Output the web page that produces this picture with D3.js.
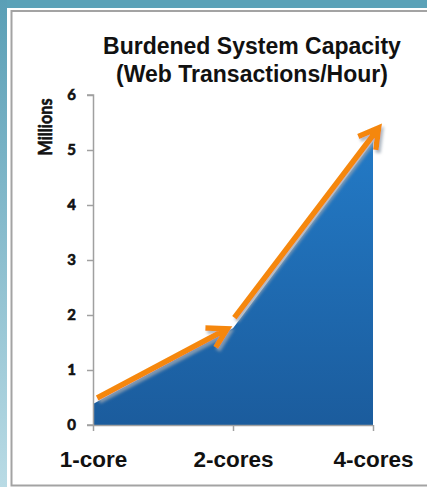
<!DOCTYPE html>
<html>
<head>
<meta charset="utf-8">
<script src="https://cdn.jsdelivr.net/npm/d3@7"></script>
<style>
    body { margin: 0; background: #ffffff; }
</style>
</head>
<body>
<div id="chart"></div>
<script>

// chart values
let categories = ["1-core", "2-cores", "4-cores"];
let capacity = [0.38, 1.76, 5.15];          // millions of web transactions/hour
let yTicks = [0, 1, 2, 3, 4, 5, 6];

// the two orange trend arrows, in (category index, millions)
let arrowFrom = [[0.03, 0.49], [1.01, 1.95]];
let arrowTo = [[0.96, 1.75], [2.04, 5.40]];

let W = 427, H = 487;
let margin = {top: 95, left: 93, right: 54, bottom: 62};

let svg = d3.select("#chart")
    .append("svg")
    .attr("width", W)
    .attr("height", H);

let defs = svg.append("defs");

// slide background: teal strips at top and left
let side = defs.append("linearGradient")
    .attr("id", "side")
    .attr("x1", 0).attr("y1", 0).attr("x2", 0).attr("y2", 1);
side.append("stop").attr("offset", "0%").attr("stop-color", "#5a9fb6");
side.append("stop").attr("offset", "100%").attr("stop-color", "#b9dbe5");

svg.append("rect")
    .attr("x", 0).attr("y", 0)
    .attr("width", W).attr("height", 8)
    .attr("fill", "#5ba2b8");
svg.append("rect")
    .attr("x", 0).attr("y", 0)
    .attr("width", 7).attr("height", H)
    .attr("fill", "url(#side)");

// white chart panel with grey border
svg.append("rect")
    .attr("x", 11.5).attr("y", 11)
    .attr("width", W + 10).attr("height", 474.5)
    .attr("fill", "#ffffff")
    .attr("stroke", "#a3a3a3")
    .attr("stroke-width", 2);

// scales
let x = d3.scaleLinear()
    .domain([0, categories.length - 1])
    .range([margin.left, W - margin.right]);

let y = d3.scaleLinear()
    .domain([0, 6])
    .range([H - margin.bottom, margin.top]);

// area fill gradient
let fill = defs.append("linearGradient")
    .attr("id", "areaFill")
    .attr("gradientUnits", "userSpaceOnUse")
    .attr("x1", 0).attr("y1", y(5.2)).attr("x2", 0).attr("y2", y(0));
fill.append("stop").attr("offset", "0%").attr("stop-color", "#237ac6");
fill.append("stop").attr("offset", "100%").attr("stop-color", "#1b5c9d");

let area = d3.area()
    .x(function (d, i) { return x(i); })
    .y0(y(0))
    .y1(function (d) { return d; });

svg.append("path")
    .datum(capacity.map(function (v) { return y(v); }))
    .attr("d", area)
    .attr("fill", "url(#areaFill)");

// Y axis
let yAxis = svg.append("g")
    .attr("transform", "translate(" + x(0) + ",0)")
    .call(d3.axisLeft(y).tickValues(yTicks).tickSize(6).tickPadding(11).tickFormat(d3.format("d")));

// X axis
let xAxis = svg.append("g")
    .attr("transform", "translate(0," + y(0) + ")")
    .call(d3.axisBottom(x).tickValues(d3.range(categories.length)).tickSize(6).tickPadding(20)
        .tickFormat(function (i) { return categories[i]; }));

// Basic Customization
svg.selectAll(".domain").attr("stroke", "#a0a0a0").attr("stroke-width", 1.5);
svg.selectAll(".tick line").attr("stroke", "#a0a0a0").attr("stroke-width", 1.5);
yAxis.selectAll(".domain").attr("d", "M0.5," + y(6) + "H-6V" + y(6) + "H0.5V" + y(0) + "H-6");
xAxis.selectAll(".domain").attr("d", "M" + x(0) + ",0.5H" + x(2));

yAxis.selectAll(".tick text")
    .style("font-family", "Lato, sans-serif")
    .style("font-weight", "bold")
    .style("font-size", "15px")
    .attr("fill", "#111")
    .attr("stroke", "#111")
    .attr("stroke-width", 0.6);

xAxis.selectAll(".tick text")
    .style("font-family", "'Liberation Sans', Arial, sans-serif")
    .style("font-weight", "bold")
    .style("font-size", "22.5px")
    .attr("fill", "#111");

// Arrows
let shadow = defs.append("filter")
    .attr("id", "shadow")
    .attr("x", "-20%").attr("y", "-20%").attr("width", "140%").attr("height", "140%");
shadow.append("feDropShadow")
    .attr("dx", 2).attr("dy", 3)
    .attr("stdDeviation", 1.5)
    .attr("flood-color", "#9aa6b3")
    .attr("flood-opacity", 0.8);

function arrowPath(i) {
    let x0 = x(arrowFrom[i][0]), y0 = y(arrowFrom[i][1]);
    let x1 = x(arrowTo[i][0]), y1 = y(arrowTo[i][1]);
    let a = Math.atan2(y0 - y1, x0 - x1);
    let len = 22, spread = Math.PI / 6;
    let p = d3.path();
    p.moveTo(x0, y0);
    p.lineTo(x1, y1);
    p.moveTo(x1 + len * Math.cos(a + spread), y1 + len * Math.sin(a + spread));
    p.lineTo(x1, y1);
    p.lineTo(x1 + len * Math.cos(a - spread), y1 + len * Math.sin(a - spread));
    return p.toString();
}

svg.selectAll(".arrow")
    .data(d3.range(arrowFrom.length))
    .enter()
    .append("path")
    .attr("class", "arrow")
    .attr("d", arrowPath)
    .attr("fill", "none")
    .attr("stroke", "#f5870b")
    .attr("stroke-width", 5.5)
    .attr("stroke-linejoin", "miter")
    .attr("filter", "url(#shadow)");

// Title
let title = svg.append("text")
    .attr("text-anchor", "middle")
    .style("font-family", "'Liberation Sans', Arial, sans-serif")
    .style("font-weight", "bold")
    .style("font-size", "23px")
    .attr("fill", "#111");
title.append("tspan").attr("x", 252).attr("y", 54).text("Burdened System Capacity");
title.append("tspan").attr("x", 252).attr("y", 82).text("(Web Transactions/Hour)");

// Y axis label
svg.append("text")
    .attr("text-anchor", "middle")
    .attr("transform", "translate(51.5,127) rotate(-90)")
    .attr("textLength", 57)
    .attr("lengthAdjust", "spacingAndGlyphs")
    .style("font-family", "Lato, sans-serif")
    .style("font-weight", "bold")
    .style("font-size", "19px")
    .attr("fill", "#111")
    .attr("stroke", "#111")
    .attr("stroke-width", 0.6)
    .text("Millions");

</script>
</body>
</html>
